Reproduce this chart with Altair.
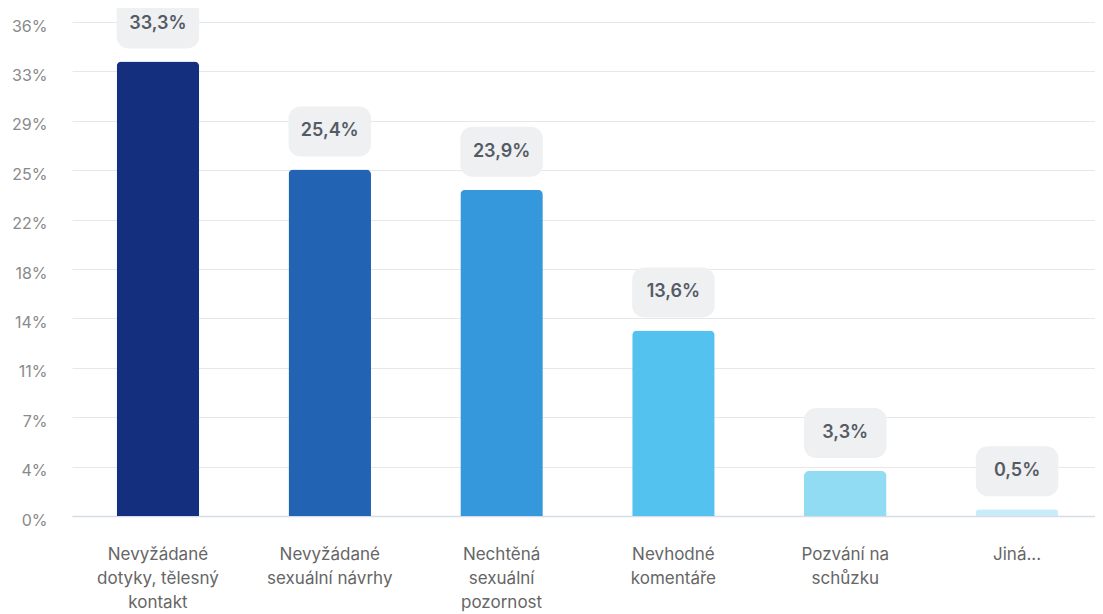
import altair as alt
import pandas as pd

categories = [
    "Nevyžádané|dotyky, tělesný|kontakt",
    "Nevyžádané|sexuální návrhy",
    "Nechtěná|sexuální|pozornost",
    "Nevhodné|komentáře",
    "Pozvání na|schůzku",
    "Jiná...",
]
values = [33.3, 25.4, 23.9, 13.6, 3.3, 0.5]
value_labels = ["33,3%", "25,4%", "23,9%", "13,6%", "3,3%", "0,5%"]
colors = ["#132f7e", "#2363b4", "#3598dc", "#53c2ee", "#92dcf3", "#c8edf9"]
y_ticks = [0, 3.62, 7.24, 10.86, 14.48, 18.1, 21.72, 25.34, 28.96, 32.58, 36.2]

df = pd.DataFrame({"cat": categories, "value": values, "label": value_labels, "color": colors})

FONT = "Inter"

x_enc = alt.X(
    "cat:N",
    sort=categories,
    title=None,
    scale=alt.Scale(paddingInner=0.52, paddingOuter=0.26, range=[0, 1031]),
    axis=alt.Axis(
        labelExpr="split(datum.label, '|')",
        labelAngle=0,
        labelFont=FONT,
        labelFontSize=17,
        labelColor="#666666",
        labelLineHeight=24,
        labelPadding=30,
        labelBaseline="top",
        ticks=False,
        domain=True,
        domainColor="#d6dcea",
        domainWidth=1.5,
        grid=False,
        labelLimit=300,
    ),
)

y_enc = alt.Y(
    "value:Q",
    title=None,
    scale=alt.Scale(domain=[0, 36.2], nice=False),
    axis=alt.Axis(
        values=y_ticks,
        labelExpr="round(datum.value) + '%'",
        labelFont=FONT,
        labelFontSize=16,
        labelColor="#8a8a8a",
        labelPadding=25,
        labelOffset=4,
        ticks=False,
        domain=False,
        gridColor="#e7e7e9",
        gridWidth=1,
    ),
)

base = alt.Chart(df).encode(x=x_enc, y=y_enc)

bars = base.mark_bar(cornerRadiusTopLeft=5, cornerRadiusTopRight=5).encode(
    color=alt.Color("color:N", scale=None),
)

boxes = base.mark_bar(
    cornerRadius=12, color="#eff0f1", yOffset=-63, y2Offset=-13
).encode(y2="value:Q")

texts = base.mark_text(
    font=FONT, fontSize=18, fontWeight=600, color="#555b66", dy=-38, baseline="middle"
).encode(text="label:N")

chart = (
    alt.layer(bars, boxes, texts)
    .properties(
        width=1023,
        height=494,
        autosize=alt.AutoSizeParams(type="none"),
        padding={"left": 64, "top": 14, "right": 0, "bottom": 98},
    )
    .configure(background="white")
    .configure_view(strokeWidth=0, stroke="transparent")
)

chart.save("out.html", embed_options={"renderer": "svg", "actions": False})
